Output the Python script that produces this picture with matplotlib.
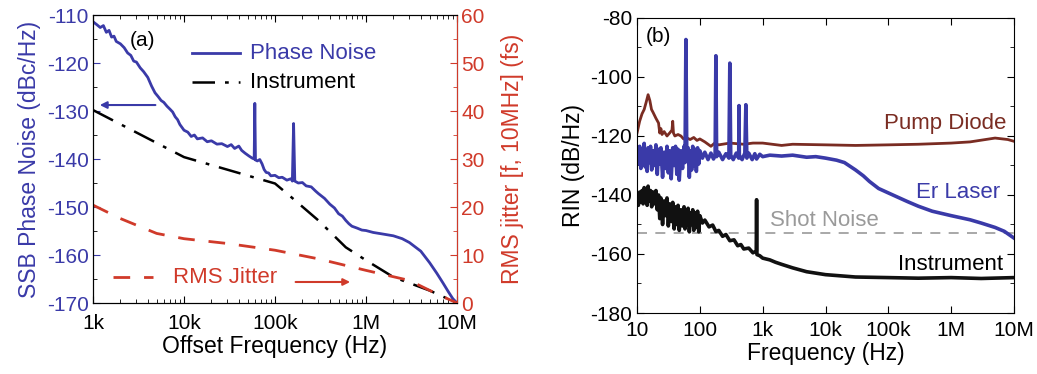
import matplotlib
matplotlib.use("Agg")
import matplotlib.pyplot as plt
from matplotlib.lines import Line2D
from matplotlib.ticker import FixedLocator

plt.rcParams['font.family'] = ['Liberation Sans', 'DejaVu Sans']
plt.rcParams['axes.unicode_minus'] = False

BLUE = '#3a3aa8'
RED = '#d03a2a'
BROWN = '#7a2c22'
GREY = '#9a9a9a'

# ---------------- Panel (a) data ----------------
pn_freq = [1000, 1100, 1200, 1300, 1400, 1500, 1600, 1700, 1800, 2000, 2200, 2400, 2600, 2800,
           3000, 3300, 3600, 4000, 4400, 4800, 5200, 5600, 6000, 6500, 7000, 7500, 8000, 8500,
           9000, 1e4, 1.1e4, 1.2e4, 1.3e4, 1.4e4, 1.6e4, 1.8e4, 2e4, 2.3e4, 2.6e4, 3e4, 3.3e4,
           3.6e4, 4e4, 4.3e4, 4.7e4, 5.2e4, 5.6e4, 5.9e4, 6e4, 6.1e4, 6.4e4, 6.8e4, 7.2e4, 7.6e4,
           8e4, 8.5e4, 9e4, 1e5, 1.1e5, 1.2e5, 1.35e5, 1.5e5, 1.55e5, 1.6e5, 1.65e5, 1.8e5, 2e5,
           2.2e5, 2.5e5, 2.8e5, 3e5, 3.5e5, 4e5, 4.5e5, 5e5, 5.5e5, 6e5, 6.5e5, 7e5, 8e5, 9e5,
           1e6, 1.2e6, 1.5e6, 2e6, 2.5e6, 3e6, 4e6, 5e6, 6e6, 7e6, 8e6, 9e6, 1e7]
pn_val = [-111.4, -112.0, -112.6, -112.2, -113.6, -113.2, -114.6, -114.4, -115.5, -116.0, -116.8,
          -117.9, -118.4, -119.6, -119.8, -121.0, -121.8, -123.0, -124.8, -126.2, -127.0, -127.8,
          -128.2, -129.0, -129.6, -130.2, -131.2, -131.8, -132.8, -134.0, -134.4, -135.3, -135.0,
          -135.8, -135.6, -136.4, -136.2, -136.9, -136.8, -137.4, -137.0, -137.8, -137.3, -138.2,
          -138.8, -139.4, -139.8, -140.0, -128.4, -140.2, -140.4, -140.1, -141.0, -142.2, -142.8,
          -142.9, -143.5, -143.4, -143.9, -143.8, -144.4, -144.1, -144.6, -132.6, -144.6, -145.0,
          -144.9, -145.6, -145.8, -146.7, -147.2, -148.2, -149.4, -150.2, -151.4, -151.9, -152.8,
          -153.5, -154.0, -154.4, -154.8, -154.9, -155.3, -155.6, -156.0, -156.6, -157.4, -159.2,
          -161.6, -163.8, -165.8, -167.6, -169.1, -170.0]

inst_a_freq = [1e3, 1e4, 1e5, 1.5e5, 3e5, 6e5, 1e6, 2e6, 5e6, 1e7]
inst_a_val = [-129.8, -139.6, -145.1, -147.9, -152.8, -158.4, -161.1, -164.6, -167.4, -170.0]

jit_freq = [1e3, 2e3, 5e3, 1e4, 3e4, 1e5, 3e5, 1e6, 3e6, 6e6, 1e7]
jit_val = [20.4, 17.6, 14.5, 13.4, 12.4, 11.0, 9.2, 6.8, 4.7, 1.9, 0.0]

a_xticks = [1e3, 1e4, 1e5, 1e6, 1e7]
a_xlabels = ['1k', '10k', '100k', '1M', '10M']
a_yticks = [-110, -120, -130, -140, -150, -160, -170]
a_rticks = [0, 10, 20, 30, 40, 50, 60]

# ---------------- Panel (b) data ----------------
pump_freq = [10, 11, 12, 13, 14, 15, 16, 17, 18, 20, 22, 23, 24, 25, 27, 30, 33, 36, 37, 38, 40,
             45, 50, 55, 60, 70, 80, 90, 100, 120, 150, 170, 200, 300, 500, 700, 1e3, 2e3, 3e3,
             1e4, 3e4, 1e5, 3e5, 1e6, 2e6, 5e6, 8e6, 1e7]
pump_val = [-119.0, -115.0, -112.5, -111.0, -108.5, -106.0, -108.0, -111.0, -112.0, -114.0, -115.6,
            -119.0, -117.5, -119.5, -118.5, -120.0, -119.0, -118.0, -115.0, -119.0, -120.0,
            -119.5, -120.0, -121.0, -120.5, -121.2, -120.5, -121.5, -121.0, -122.0, -123.5,
            -122.5, -123.0, -122.4, -122.8, -122.4, -122.4, -123.2, -122.8, -123.0, -123.2,
            -123.0, -122.8, -122.4, -122.0, -120.7, -121.2, -121.8]

er_freq = [10, 10.5, 11, 11.5, 12, 12.5, 13, 13.5, 14, 14.5, 15, 15.7, 16.4, 17.1, 18, 19, 20, 21,
           22, 23, 24, 25.5, 27, 28.5, 30, 31.5, 33, 35, 37, 39, 41, 43, 45, 47, 50, 53, 56, 58,
           60, 62, 65, 68, 71, 74, 77, 80, 84, 88, 92, 96, 100, 110, 120, 135, 150, 165, 175,
           180, 185, 200, 230, 260, 290, 300, 310, 340, 380, 415, 420, 425, 470, 520, 540, 560,
           600, 680, 750, 800, 900, 1000, 1300, 2000, 3000, 5000, 7000, 1e4, 1.5e4, 2e4, 3e4,
           4e4, 5e4, 7e4, 1e5, 1.5e5, 2e5, 3e5, 5e5, 1e6, 2e6, 3e6, 5e6, 7e6, 1e7]
er_val = [-124.0, -129.5, -123.5, -131.0, -124.5, -128.0, -122.5, -130.5, -125.0, -132.0, -124.0,
          -129.0, -123.5, -131.5, -125.0, -130.0, -123.0, -133.0, -124.5, -129.5, -124.0, -134.0,
          -125.5, -131.0, -123.5, -132.5, -125.0, -134.5, -124.0, -130.0, -123.5, -133.0, -124.5,
          -135.0, -125.0, -131.0, -123.5, -129.0, -87.3, -128.0, -124.0, -134.0, -125.0, -131.5,
          -123.5, -130.0, -124.5, -132.0, -124.0, -129.5, -125.0, -127.5, -125.5, -128.0, -125.8,
          -127.8, -126.5, -92.8, -127.0, -125.5, -128.0, -126.0, -127.5, -95.3, -126.5, -128.0,
          -125.8, -127.5, -109.7, -126.5, -128.0, -125.8, -109.4, -127.5, -125.8, -128.0, -126.0,
          -127.8, -126.2, -127.0, -126.5, -126.8, -126.5, -127.2, -127.0, -127.5, -128.2, -129.0,
          -131.5, -133.5, -135.4, -137.8, -139.3, -141.0, -142.2, -143.8, -145.5, -147.0, -148.4,
          -149.5, -151.0, -152.3, -154.6]

inst_b_freq = [10, 10.5, 11, 11.5, 12, 12.5, 13, 13.5, 14, 14.5, 15, 15.7, 16.4, 17.1, 18, 19, 20,
               21, 22, 23, 24, 25.5, 27, 28.5, 30, 31.5, 33, 35, 37, 39, 41, 43, 45, 47, 50, 53,
               56, 58, 60, 62, 65, 68, 71, 74, 77, 80, 84, 88, 92, 96, 100, 110, 120, 140, 160,
               180, 200, 230, 260, 300, 350, 400, 450, 500, 600, 700, 790, 800, 810, 900, 1000,
               1300, 1600, 2000, 3000, 5000, 1e4, 3e4, 1e5, 3e5, 1e6, 3e6, 1e7]
inst_b_val = [-140.5, -143.5, -139.0, -142.5, -138.5, -143.0, -137.5, -142.0, -138.0, -143.5,
              -137.0, -142.0, -138.5, -144.0, -139.0, -143.0, -138.5, -145.0, -140.0, -148.0,
              -141.0, -150.0, -142.0, -147.0, -141.0, -150.5, -143.0, -149.0, -142.5, -151.5,
              -144.0, -150.0, -143.5, -152.0, -145.0, -150.5, -144.0, -151.5, -145.5, -150.0,
              -144.5, -152.5, -146.0, -150.0, -145.0, -152.0, -146.0, -151.0, -145.5, -152.5,
              -147.0, -149.5, -148.5, -150.8, -150.2, -152.4, -152.0, -154.0, -153.4, -155.5,
              -155.2, -157.2, -156.8, -158.3, -158.0, -159.6, -159.0, -141.6, -160.2, -160.6,
              -161.4, -162.0, -162.8, -163.5, -164.7, -166.0, -167.0, -167.8, -168.0, -168.2,
              -168.0, -168.3, -168.0]

shot_noise_level = -153.0

b_xticks = [10, 100, 1e3, 1e4, 1e5, 1e6, 1e7]
b_xlabels = ['10', '100', '1k', '10k', '100k', '1M', '10M']
b_yticks = [-80, -100, -120, -140, -160, -180]

TICK_FS = 15
LABEL_FS = 16.5
TEXT_FS = 16

# ---------------- Figure ----------------
fig = plt.figure(figsize=(10.37, 3.74), dpi=100)

ax = fig.add_axes([0.0897, 0.1898, 0.351, 0.770])
ax.set_xscale('log')
ax.plot(pn_freq, pn_val, color=BLUE, lw=2.0)
ax.plot(inst_a_freq, inst_a_val, color='black', lw=1.8, dashes=(9, 4, 1.5, 4))
ax.set_xlim(1e3, 1e7)
ax.set_ylim(-170, -110)
ax.set_xticks(a_xticks)
ax.set_xticklabels(a_xlabels)
ax.set_yticks(a_yticks)
ax.yaxis.set_minor_locator(FixedLocator(list(range(-165, -110, 10))))
ax.tick_params(axis='both', which='both', direction='in', labelsize=TICK_FS, top=True)
ax.tick_params(axis='x', pad=8)
ax.tick_params(axis='y', colors=BLUE, labelcolor=BLUE, pad=3)
ax.tick_params(which='major', length=5)
ax.tick_params(which='minor', length=3)
ax.set_xlabel('Offset Frequency (Hz)', fontsize=LABEL_FS, labelpad=1)
ax.set_ylabel('SSB Phase Noise (dBc/Hz)', fontsize=LABEL_FS, color=BLUE, labelpad=4)

ax2 = ax.twinx()
ax2.plot(jit_freq, jit_val, color=RED, lw=2.0, dashes=(6, 5))
ax2.set_ylim(0, 60)
ax2.set_yticks(a_rticks)
ax2.yaxis.set_minor_locator(FixedLocator([5, 15, 25, 35, 45, 55]))
ax2.tick_params(axis='y', which='both', direction='in', colors=RED, labelcolor=RED,
                labelsize=TICK_FS, pad=3)
ax2.tick_params(which='major', length=5)
ax2.tick_params(which='minor', length=3)
ax2.spines['right'].set_color(RED)
ax2.set_ylabel('RMS jitter [f, 10MHz] (fs)', fontsize=LABEL_FS, color=RED, labelpad=12)

ax.text(0.137, 0.913, '(a)', transform=ax.transAxes, fontsize=15, ha='center', va='center')
ax.add_line(Line2D([0.272, 0.404], [0.868, 0.868], transform=ax.transAxes, color=BLUE, lw=2))
ax.text(0.431, 0.868, 'Phase Noise', transform=ax.transAxes, fontsize=TEXT_FS, color=BLUE,
        va='center')
ax.add_line(Line2D([0.272, 0.404], [0.767, 0.767], transform=ax.transAxes, color='black', lw=1.8,
                   dashes=(9, 4, 1.5, 4)))
ax.text(0.431, 0.767, 'Instrument', transform=ax.transAxes, fontsize=TEXT_FS, color='black',
        va='center')
ax.annotate('', xy=(0.011, 0.6875), xytext=(0.179, 0.6875), xycoords='axes fraction',
            arrowprops=dict(arrowstyle='-|>', color=BLUE, lw=1.5, mutation_scale=10))
ax.add_line(Line2D([0.055, 0.165], [0.09, 0.09], transform=ax.transAxes, color=RED, lw=2,
                   dashes=(6, 5)))
ax.text(0.22, 0.09, 'RMS Jitter', transform=ax.transAxes, fontsize=TEXT_FS, color=RED,
        va='center')
ax.annotate('', xy=(0.714, 0.073), xytext=(0.549, 0.073), xycoords='axes fraction',
            arrowprops=dict(arrowstyle='-|>', color=RED, lw=1.5, mutation_scale=10))

# Panel (b)
bx = fig.add_axes([0.6143, 0.1631, 0.3635, 0.7888])
bx.set_xscale('log')
bx.axhline(shot_noise_level, color=GREY, lw=1.2, dashes=(6, 5))
bx.plot(pump_freq, pump_val, color=BROWN, lw=2.0)
bx.plot(er_freq, er_val, color=BLUE, lw=2.6)
bx.plot(inst_b_freq, inst_b_val, color='#111111', lw=2.6)
bx.set_xlim(10, 1e7)
bx.set_ylim(-180, -80)
bx.set_xticks(b_xticks)
bx.set_xticklabels(b_xlabels)
bx.set_yticks(b_yticks)
bx.yaxis.set_minor_locator(FixedLocator([-90, -110, -130, -150, -170]))
bx.tick_params(axis='both', which='both', direction='in', labelsize=TICK_FS, top=True, right=True)
bx.tick_params(axis='x', pad=6)
bx.tick_params(which='major', length=5)
bx.tick_params(which='minor', length=3)
bx.set_xlabel('Frequency (Hz)', fontsize=LABEL_FS, labelpad=1)
bx.set_ylabel('RIN (dB/Hz)', fontsize=LABEL_FS, labelpad=4)

bx.text(0.056, 0.936, '(b)', transform=bx.transAxes, fontsize=15, ha='center', va='center')
bx.text(0.981, 0.644, 'Pump Diode', transform=bx.transAxes, fontsize=TEXT_FS, color=BROWN,
        ha='right', va='center')
bx.text(0.963, 0.407, 'Er Laser', transform=bx.transAxes, fontsize=TEXT_FS, color=BLUE,
        ha='right', va='center')
bx.text(0.353, 0.315, 'Shot Noise', transform=bx.transAxes, fontsize=TEXT_FS, color=GREY,
        ha='left', va='center')
bx.text(0.971, 0.163, 'Instrument', transform=bx.transAxes, fontsize=TEXT_FS, color='black',
        ha='right', va='center')

fig.savefig('out.png', dpi=100)
